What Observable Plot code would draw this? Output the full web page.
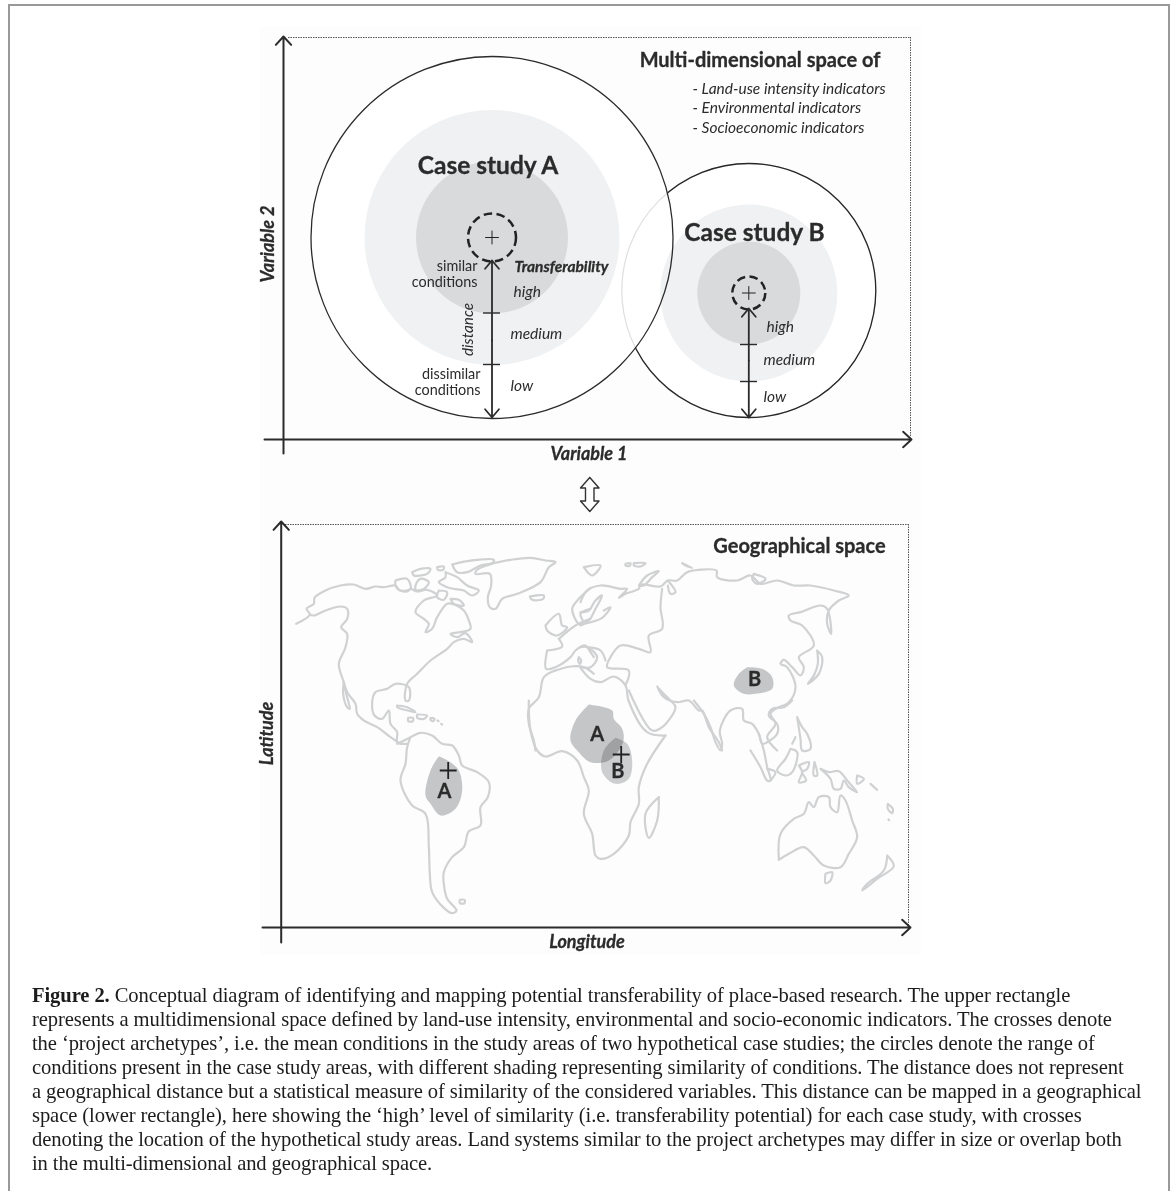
<!DOCTYPE html>
<html><head><meta charset="utf-8">
<script src="https://cdn.jsdelivr.net/npm/d3@7"></script>
<script src="https://cdn.jsdelivr.net/npm/@observablehq/plot@0.6"></script>
<style>
html,body{margin:0;padding:0;background:#fff;width:1171px;height:1191px;overflow:hidden}
#frame{position:absolute;left:8px;top:4px;width:1162px;height:1187px;border:2px solid #999;border-bottom:none;box-sizing:border-box}
#chart{position:absolute;left:0;top:0}
#caption{position:absolute;left:32px;top:983px;font:20.6px/24px "Liberation Serif",serif;color:#1c1c1c;white-space:nowrap;letter-spacing:-.1px}
</style></head><body>
<div id="frame"></div><div id="chart"></div>
<div id="caption"><b>Figure 2.</b> Conceptual diagram of identifying and mapping potential transferability of place-based research. The upper rectangle<br>represents a multidimensional space defined by land-use intensity, environmental and socio-economic indicators. The crosses denote<br>the ‘project archetypes’, i.e. the mean conditions in the study areas of two hypothetical case studies; the circles denote the range of<br>conditions present in the case study areas, with different shading representing similarity of conditions. The distance does not represent<br>a geographical distance but a statistical measure of similarity of the considered variables. This distance can be mapped in a geographical<br>space (lower rectangle), here showing the ‘high’ level of similarity (i.e. transferability potential) for each case study, with crosses<br>denoting the location of the hypothetical study areas. Land systems similar to the project archetypes may differ in size or overlap both<br>in the multi-dimensional and geographical space.</div>
<script>
const W = 1171, H = 975;
const INK = "#2b2b2b", COAST = "#d0d1d2", BLOB = "#c5c6c7";

// Upper panel: circles [x, y, r]
const caseACenter = [491.5, 237], caseBCenter = [748.3, 290];
const caseARadii = {outer: 181, mid: 127.5, inner: 76, dashed: 24};
const caseBRadii = {outer: 127, mid: 88.5, inner: 51.5, dashed: 16.5};

// Axes and dotted frames
const axisArrows = [
  {x1: 283, y1: 453, x2: 283, y2: 36},  {x1: 264, y1: 439, x2: 911, y2: 439},
  {x1: 280.7, y1: 942, x2: 280.7, y2: 521}, {x1: 262, y1: 927, x2: 910, y2: 927}
];
const dottedH = [{y: 37, x1: 288, x2: 910}, {y: 524, x1: 285, x2: 908}];
const dottedV = [{x: 910, y1: 37, y2: 437}, {x: 908, y1: 524, y2: 925}];

// Distance arrows and their tick marks
const distanceArrows = [
  {x1: 491.5, y1: 340, x2: 491.5, y2: 260}, {x1: 491.5, y1: 340, x2: 491.5, y2: 417},
  {x1: 748.3, y1: 360, x2: 748.3, y2: 308}, {x1: 748.3, y1: 360, x2: 748.3, y2: 417}
];
const distanceTicks = [
  {x1: 483, x2: 500, y: 312.5}, {x1: 483, x2: 500, y: 364},
  {x1: 740, x2: 757, y: 344},   {x1: 740, x2: 757, y: 381}
];
const crosses = [[491.5, 237, 4.5, 1], [748.3, 292.5, 4.5, 1], [447.7, 770, 5.5, 1.8], [620.7, 754, 5.5, 1.8]];
const doubleArrow = [[589.3,477],[598.5,487.5],[593.5,487.5],[593.5,500.5],[598.5,500.5],[589.3,511],[580,500.5],[585,500.5],[585,487.5],[580,487.5],[589.3,477]];

// Text: [label, x, y]
const caseTitles = [["Case study A", 487.5, 166], ["Case study B", 754, 233]];
const panelTitles = [["Multi-dimensional space of", 759.5, 60], ["Geographical space", 799, 546]];
const indicatorLines = [["- Land-use intensity indicators", 692, 89], ["- Environmental indicators", 692, 108], ["- Socioeconomic indicators", 692, 128]];
const conditionLines = [["similar", 477, 266], ["conditions", 477, 282], ["dissimilar", 480, 374], ["conditions", 480, 390]];
const levelLines = [["high", 513, 292], ["medium", 510, 334], ["low", 510, 386], ["high", 766, 327], ["medium", 763, 360], ["low", 763, 397]];
const axisTitlesH = [["Variable 1", 588.5, 454], ["Longitude", 586.5, 942]];
const axisTitlesV = [["Variable 2", 268, 243.5], ["Latitude", 266.5, 733]];
const mapLetters = [["A", 444, 791], ["A", 596.7, 734], ["B", 617.3, 771], ["B", 754, 679]];

const northAmerica = {o: [250, 510], shapes: [
 [[137,340],[178,312],[168,295],[190,280],[192,262],[225,240],[270,225],[310,222],[345,235],[375,228],[400,230],[435,225],[445,238],[470,243],[480,235],[500,243],[530,238],[560,255],[520,270],[495,305],[520,325],[535,340],[525,365],[545,355],[560,320],[590,280],[605,280],[640,300],[655,330],[660,355],[630,365],[600,370],[620,380],[645,368],[665,395],[640,385],[610,395],[590,415],[540,450],[500,490],[470,520],[465,570],[475,570],[475,530],[435,520],[410,535],[375,545],[365,575],[372,615],[395,625],[415,600],[420,640],[440,665],[440,695],[470,700]],
 [[450,700],[420,680],[380,650],[340,630],[320,610],[315,580],[290,545],[278,510],[265,460],[285,410],[290,370],[272,350],[290,325],[290,295],[270,288],[225,300],[190,315],[178,312]],
 [[280,515],[287,550],[298,595],[290,590],[278,550],[280,515]],
 [[605,162],[650,152],[730,148],[725,158],[690,165],[650,185],[620,185],[605,162]],
 [[730,158],[780,148],[840,142],[885,150],[915,155],[895,170],[870,215],[800,250],[755,265],[735,295],[718,290],[712,260],[722,225],[718,190],[675,190],[680,178],[730,158]],
 [[838,258],[880,255],[878,265],[845,268],[838,258]],
 [[485,185],[510,175],[540,175],[530,190],[510,195],[490,195],[485,185]],
 [[560,170],[580,168],[578,178],[562,178],[560,170]],
 [[585,185],[620,200],[650,225],[685,240],[665,255],[640,240],[610,235],[590,230],[565,215],[585,200],[585,185]],
 [[435,210],[470,205],[480,235],[450,240],[435,225],[435,210]],
 [[495,240],[520,235],[535,215],[510,205],[495,225],[495,240]],
 [[565,240],[590,245],[580,268],[560,260],[565,240]],
 [[600,265],[625,268],[640,285],[610,280],[600,265]],
 [[440,585],[470,590],[495,605],[480,602],[440,590],[440,585]],
 [[500,612],[530,615],[520,625],[500,622],[500,612]],
 [[473,622],[487,622],[487,632],[473,632],[473,622]],
 [[540,622],[552,625],[548,632],[540,628],[540,622]],
 [[561,630],[564,632]], [[572,640],[575,642]],
 [[885,345],[925,310],[935,345],[950,350],[920,375],[890,360],[885,345]],
 [[925,385],[975,345],[1020,325]],
 [[890,420],[935,408],[925,385]],
 [[890,420],[887,475],[915,470],[960,440],[975,420],[1005,405],[1020,425],[1030,440]],
 [[985,440],[992,450],[988,460],[983,450],[985,440]],
 [[1020,232],[985,265],[965,295],[985,340],[1000,340],[990,310],[1020,295]],
 [[915,480],[880,500],[865,560],[835,595],[835,640],[850,690],[855,720]],
 [[915,480],[960,468],[1000,470],[1030,490]]
]};
const eurasia = {o: [580, 510], shapes: [
 [[0,275],[20,240],[60,225],[120,235],[140,235],[115,262],[135,250],[175,235],[180,222],[240,228],[262,210],[290,210],[320,185],[355,178],[408,180],[410,200],[470,210],[510,195],[540,220],[590,210],[640,225],[690,225],[760,240],[805,255],[775,270],[745,300],[740,340],[752,370],[740,295],[720,285],[660,305],[625,315],[630,330],[665,345],[700,405],[655,440],[670,470],[660,495],[635,470],[610,448],[600,460],[620,470],[645,530],[625,575],[585,595],[570,610],[585,640],[560,680],[590,720]],
 [[262,210],[285,245],[270,250],[262,225]],
 [[245,235],[240,290],[245,355],[205,375],[210,425],[175,415],[120,405],[90,440],[80,470],[145,480],[135,525]],
 [[0,345],[25,330],[45,295],[65,255],[45,270],[25,300],[0,305]],
 [[70,300],[90,290],[65,322],[0,342]],
 [[0,410],[20,410],[50,440],[30,470],[0,470]],
 [[20,410],[60,420],[75,450]],
 [[0,472],[30,505],[60,515],[100,498],[135,525],[144,570],[200,665],[255,675]],
 [[145,540],[215,660],[245,650],[285,590],[270,570],[235,535],[230,528],[250,560],[290,575],[325,570],[355,600],[365,600],[385,650],[415,695],[425,720]],
 [[10,170],[60,165],[35,195],[10,170]],
 [[135,160],[150,158],[148,166],[135,165],[135,160]],
 [[160,158],[195,158],[180,168],[160,165],[160,158]],
 [[175,225],[200,195],[235,182],[215,200],[190,225],[175,225]],
 [[305,158],[335,172],[315,165],[305,158]],
 [[520,190],[555,205],[530,220],[515,205],[520,190]],
 [[710,420],[725,440],[715,490],[682,520],[700,495],[712,460],[710,420]]
]};
const southAtlantic = {o: [380, 700], shapes: [
 [[50,130],[90,110],[120,97],[155,105],[185,130],[215,135],[235,165],[245,195],[290,215],[325,245],[322,290],[300,320],[300,375],[265,392],[250,440],[215,470],[190,515],[190,550],[200,595],[228,630],[215,638],[190,622],[155,575],[148,520],[145,440],[135,340],[95,315],[60,240],[75,190],[80,140],[90,110]],
 [[238,598],[252,598],[252,608],[238,608],[238,598]],
 [[445,0],[445,30],[450,90],[470,150],[495,168],[545,152],[590,180],[610,230],[625,270],[610,340],[635,400],[645,465],[660,475],[700,460],[745,405],[750,365],[775,310],[775,260],[800,190],[855,105]],
 [[835,290],[830,360],[805,412],[795,340],[835,290]]
]};
const oceania = {o: [660, 700], shapes: [
 [[100,0],[130,40],[150,80],[165,125],[180,150],[185,130],[178,90],[210,30],[245,25],[250,60],[275,70],[295,100],[305,130],[320,125],[350,100],[350,70],[325,45],[335,25],[370,20],[395,0]],
 [[295,100],[310,150],[320,200],[330,240],[320,240],[300,200],[270,150]],
 [[320,205],[345,215],[330,240]],
 [[410,50],[425,80],[440,100],[450,145],[425,150],[420,115],[410,50]],
 [[405,110],[395,130]],
 [[390,145],[410,155],[395,215],[375,225],[350,210],[375,175],[390,145]],
 [[415,195],[445,185],[440,205],[425,215],[437,240],[415,245],[425,215],[415,195]],
 [[462,185],[470,225],[460,225],[462,185]],
 [[480,205],[505,215],[535,212],[560,240],[590,275],[565,260],[550,240],[540,265],[520,265],[510,235],[480,205]],
 [[590,225],[610,235],[590,250],[590,225]],
 [[630,250],[650,268]],
 [[682,310],[697,325],[695,338],[682,325],[682,310]],
 [[684,357],[686,359]],
 [[355,475],[360,400],[400,355],[430,340],[445,305],[460,320],[475,290],[505,290],[510,320],[530,335],[540,285],[555,300],[575,360],[590,410],[565,460],[540,500],[490,495],[460,465],[430,440],[385,460],[355,478]],
 [[495,520],[515,515],[510,540],[495,548],[495,520]],
 [[680,465],[700,497],[650,535],[605,570],[620,550],[670,510],[680,465]]
]};
const blobsA = {o: [380, 700], shapes: [
 [[175,167],[210,185],[235,210],[245,270],[225,325],[180,345],[150,310],[135,285],[150,210],[175,167]],
 [[625,12],[695,30],[700,55],[725,85],[728,125],[685,180],[630,185],[595,155],[570,120],[585,60],[625,12]]
]};
const blobsB = {o: [380, 700], shapes: [[[705,112],[740,130],[755,180],[745,235],[705,250],[665,215],[670,150],[705,112]]]};
const blobChina = {o: [580, 510], shapes: [[[500,470],[545,475],[575,500],[575,535],[525,550],[490,550],[460,525],[475,490],[500,470]]]};

const flatten = (groups, tag) => groups.flatMap((g, gi) => g.shapes.flatMap((s, si) =>
  s.map(([a, b]) => ({id: tag + gi + "-" + si, x: g.o[0] + a / 3, y: g.o[1] + b / 3}))));
const coast = flatten([northAmerica, eurasia, southAtlantic, oceania], "c");
const blobA = flatten([blobsA, blobChina], "a");
const blobB = flatten([blobsB], "b");
const pair = ([label, x, y]) => ({label, x, y});
const circle = (c, r) => ({x: c[0], y: c[1], r});
const F = "Lato, 'Open Sans', sans-serif";
const textMark = (rows, opts) => Plot.text(rows.map(pair), {x: "x", y: "y", text: "label", lineAnchor: "middle", fontFamily: F, fill: INK, ...opts});
const bold = {fontWeight: 700, stroke: INK, strokeWidth: 0.3};

const chart = Plot.plot({
  width: W, height: H, margin: 0,
  x: {type: "linear", domain: [0, W], range: [0, W], axis: null},
  y: {type: "linear", domain: [0, H], range: [0, H], axis: null},
  r: {type: "identity"},
  style: {background: "transparent"},
  marks: [
    Plot.rect([{x1: 260, x2: 921, y1: 26, y2: 955}], {x1: "x1", x2: "x2", y1: "y1", y2: "y2", fill: "#fdfdfd"}),
    // Dotted frames
    Plot.ruleY(dottedH, {y: "y", x1: "x1", x2: "x2", stroke: "#555", strokeWidth: 1, strokeDasharray: "1.5,1"}),
    Plot.ruleX(dottedV, {x: "x", y1: "y1", y2: "y2", stroke: "#555", strokeWidth: 1, strokeDasharray: "1.5,1"}),
    // Case B outline, then case A disc hides it, and a multiply pass leaves a pale arc inside A
    Plot.dot([circle(caseBCenter, caseBRadii.outer)], {x: "x", y: "y", r: "r", stroke: "#2b2b2b", strokeWidth: 1.3, fill: "#fff"}),
    Plot.dot([circle(caseACenter, caseARadii.outer)], {x: "x", y: "y", r: "r", fill: "#fff", stroke: "none"}),
    Plot.dot([circle(caseBCenter, caseBRadii.outer)], {x: "x", y: "y", r: "r", stroke: "#dedfe0", strokeWidth: 1.2, fill: "none", mixBlendMode: "multiply"}),
    Plot.dot([circle([748.3, 292.5], caseBRadii.mid)], {x: "x", y: "y", r: "r", fill: "#f0f1f2"}),
    Plot.dot([circle([748.3, 292.5], caseBRadii.inner)], {x: "x", y: "y", r: "r", fill: "#d9dadc"}),
    Plot.dot([circle(caseACenter, caseARadii.mid)], {x: "x", y: "y", r: "r", fill: "#f0f1f2"}),
    Plot.dot([circle(caseACenter, caseARadii.inner)], {x: "x", y: "y", r: "r", fill: "#d9dadc"}),
    Plot.dot([circle(caseACenter, caseARadii.outer)], {x: "x", y: "y", r: "r", fill: "none", stroke: "#2b2b2b", strokeWidth: 1.3}),
    Plot.dot([circle(caseACenter, caseARadii.dashed), circle([748.3, 292.5], caseBRadii.dashed)], {x: "x", y: "y", r: "r", fill: "none", stroke: "#222", strokeWidth: 2.5, strokeDasharray: "8.5,4.5"}),
    // Axes
    Plot.arrow(axisArrows, {x1: "x1", y1: "y1", x2: "x2", y2: "y2", bend: 0, stroke: INK, strokeWidth: 2, headAngle: 85, headLength: 8.5}),
    Plot.arrow(distanceArrows, {x1: "x1", y1: "y1", x2: "x2", y2: "y2", bend: 0, stroke: INK, strokeWidth: 1.8, headAngle: 80, headLength: 9}),
    Plot.ruleY(distanceTicks, {y: "y", x1: "x1", x2: "x2", stroke: INK, strokeWidth: 1.4}),
    Plot.line(doubleArrow, {x: d => d[0], y: d => d[1], stroke: "#333", strokeWidth: 1.4, fill: "#fff"}),
    // Map
    Plot.line(coast, {x: "x", y: "y", z: "id", stroke: COAST, strokeWidth: 2.2, curve: "catmull-rom", fill: "none"}),
    Plot.line(blobA, {x: "x", y: "y", z: "id", fill: BLOB, stroke: "none", curve: "catmull-rom"}),
    Plot.line(blobB, {x: "x", y: "y", z: "id", fill: "#cfd0d1", stroke: "none", curve: "catmull-rom", mixBlendMode: "multiply"}),
    // Crosses
    ...crosses.map(([x, y, r, sw]) => Plot.dot([{x, y}], {x: "x", y: "y", symbol: "plus", r, stroke: "#222", strokeWidth: sw, fill: "none"})),
    // Text
    textMark(caseTitles, {fontSize: 24.5, ...bold}),
    textMark(panelTitles, {fontSize: 20, ...bold}),
    textMark(indicatorLines, {fontSize: 15.5, fontStyle: "italic", textAnchor: "start"}),
    textMark(conditionLines, {fontSize: 14.4, textAnchor: "end"}),
    textMark(levelLines, {fontSize: 15.5, fontStyle: "italic", textAnchor: "start"}),
    textMark([["Transferability", 514, 267]], {fontSize: 15.5, fontStyle: "italic", ...bold, textAnchor: "start"}),
    textMark([["distance", 468, 329]], {fontSize: 15.3, fontStyle: "italic", rotate: -90}),
    textMark(axisTitlesH, {fontSize: 18, fontStyle: "italic", ...bold}),
    textMark(axisTitlesV, {fontSize: 18, fontStyle: "italic", ...bold, rotate: -90}),
    textMark(mapLetters, {fontSize: 20, ...bold})
  ]
});
document.getElementById("chart").append(chart);
</script>
</body></html>
